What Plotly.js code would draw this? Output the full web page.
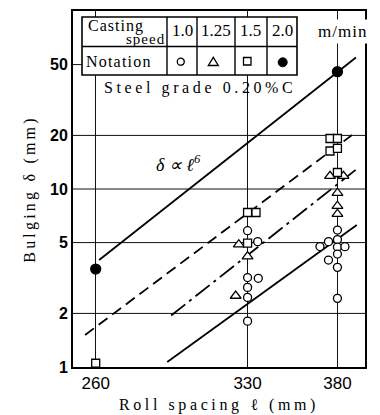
<!DOCTYPE html>
<html><head><meta charset="utf-8">
<script src="https://cdn.plot.ly/plotly-3.0.1.min.js"></script>
<style>html,body{margin:0;padding:0;background:#fff}#chart{width:380px;height:415px}</style>
</head><body><div id="chart"></div>
<script>
// ---------- data ----------
const rollSpacingTicks = [260, 330, 380];
const bulgingTicks = [1, 2, 5, 10, 20, 50];
const bulgingTickLabels = ['1', '2', '5', '10', '20', '50'];
const gridBulging = [2, 5, 10, 20];

const speedLabels = ['1.0', '1.25', '1.5', '2.0'];

// casting speed 1.0 m/min (open circles)
const v10x = [330, 335.3, 330, 335.6, 330, 330, 330,
              380, 374.7, 380, 369.7, 380, 384.5, 374.7, 380, 380, 380];
const v10y = [5.83, 5.06, 3.18, 3.15, 2.80, 2.46, 1.81,
              5.88, 5.06, 5.20, 4.75, 4.72, 4.74, 3.99, 4.31, 3.63, 2.43];
// casting speed 1.25 m/min (open triangles)
const v125x = [325.5, 330, 323.9, 375.6, 383.6, 380, 380, 380];
const v125y = [4.88, 4.18, 2.51, 11.83, 11.83, 9.50, 8.03, 7.24];
// casting speed 1.5 m/min (open squares)
const v15x = [260, 330, 334.4, 330, 375.6, 380, 375.6, 380, 380];
const v15y = [1.05, 7.38, 7.38, 4.97, 19.22, 19.22, 16.35, 16.93, 12.38];
// casting speed 2.0 m/min (filled circles)
const v20x = [260, 380];
const v20y = [3.55, 45.6];

// delta ∝ l^6 guide lines (end points)
const lineTopX = [261.4, 391.2],  lineTopY = [3.99, 54.8];
const lineDashX = [255.7, 388.8], lineDashY = [1.513, 20.1];
const lineDotX = [292.7, 392.5],  lineDotY = [1.947, 13.12];
const lineLowX = [290.9, 391.7],  lineLowY = [1.067, 6.28];

// ---------- layout helpers ----------
const L = 73, R = 365, T = 11, B = 367;
const PX = x => (x - L) / (R - L);
const PY = y => (B - y) / (B - T);
const SERIF = '"Liberation Serif", "Times New Roman", serif';
const SANS = '"Liberation Sans", Arial, sans-serif';

const lineTrace = (x, y, dash) => ({
  x, y, type: 'scatter', mode: 'lines', hoverinfo: 'skip',
  line: {color: '#000', width: 1.8, dash}
});
const markTrace = (x, y, symbol, size, fill) => ({
  x, y, type: 'scatter', mode: 'markers', hoverinfo: 'skip', cliponaxis: false,
  marker: {symbol, size, color: fill, line: {color: '#000', width: 1.3}}
});

const data = [
  lineTrace(lineTopX, lineTopY, 'solid'),
  lineTrace(lineDashX, lineDashY, '11px,6px'),
  lineTrace(lineDotX, lineDotY, '18px,5px,3px,5px'),
  lineTrace(lineLowX, lineLowY, 'solid'),
  markTrace(v10x, v10y, 'circle', 8, '#fff'),
  markTrace(v125x, v125y, 'triangle-up', 9.5, '#fff'),
  markTrace(v15x, v15y, 'square', 8, '#fff'),
  markTrace(v20x, v20y, 'circle', 10, '#000')
];

const shapes = [];
gridBulging.forEach(v => shapes.push({type: 'line', xref: 'paper', yref: 'y', x0: 0, x1: 1, y0: v, y1: v,
  line: {color: '#111', width: 1}, layer: 'below'}));
shapes.push({type: 'line', xref: 'paper', yref: 'y', x0: 0, x1: PX(120), y0: 50, y1: 50,
  line: {color: '#111', width: 1}, layer: 'below'});
// table
const tL = 82, tR = 297, tT = 17, tM = 46.5, tB = 75;
shapes.push({type: 'rect', xref: 'paper', yref: 'paper', x0: PX(tL), x1: PX(tR), y0: PY(tB), y1: PY(tT),
  fillcolor: '#fff', line: {color: '#000', width: 1.6}, layer: 'above'});
shapes.push({type: 'line', xref: 'paper', yref: 'paper', x0: PX(tL), x1: PX(tR), y0: PY(tM), y1: PY(tM),
  line: {color: '#000', width: 1.4}, layer: 'above'});
[167, 197, 235, 267].forEach(x => shapes.push({type: 'line', xref: 'paper', yref: 'paper',
  x0: PX(x), x1: PX(x), y0: PY(tT), y1: PY(tB), line: {color: '#000', width: 1.4}, layer: 'above'}));
// notation symbols
shapes.push({type: 'circle', xref: 'paper', yref: 'paper', x0: PX(177.3), x1: PX(184.3), y0: PY(65.2), y1: PY(58.2),
  line: {color: '#000', width: 1.3}, fillcolor: '#fff', layer: 'above'});
shapes.push({type: 'path', xref: 'paper', yref: 'paper', layer: 'above',
  path: `M ${PX(208.3)},${PY(65.5)} L ${PX(218.3)},${PY(65.5)} L ${PX(213.3)},${PY(57.3)} Z`,
  line: {color: '#000', width: 1.3}, fillcolor: '#fff'});
shapes.push({type: 'rect', xref: 'paper', yref: 'paper', x0: PX(243.5), x1: PX(251), y0: PY(65), y1: PY(57.5),
  line: {color: '#000', width: 1.3}, fillcolor: '#fff', layer: 'above'});
shapes.push({type: 'circle', xref: 'paper', yref: 'paper', x0: PX(278.2), x1: PX(287.2), y0: PY(66.8), y1: PY(57.8),
  line: {color: '#000', width: 1}, fillcolor: '#000', layer: 'above'});

const ann = (text, x, y, size, extra) => Object.assign({
  text, xref: 'paper', yref: 'paper', x: PX(x), y: PY(y), xanchor: 'center', yanchor: 'middle',
  showarrow: false, font: {family: SERIF, size, color: '#000'}
}, extra || {});
const sp = (t, ls) => `<span style="letter-spacing:${ls}px">${t}</span>`;

const speedX = [182.5, 215.8, 250.8, 282.5];
const annotations = [
  ann(sp('Casting', 1), 116, 26.5, 16),
  ann(sp('speed', 1), 145, 38.5, 15),
  ann(sp('Notation', 1.2), 119, 61.5, 16),
  ...speedLabels.map((s, i) => ann(s, speedX[i], 30.5, 17)),
  ann(sp('m/min', 1), 342.5, 31.5, 17, {bgcolor: '#fff', borderpad: 2}),
  ann(sp('Steel grade 0.20%C', 3.6), 199.5, 88, 16),
  ann('δ ∝ ℓ<sup>6</sup>', 178, 163, 18, {font: {family: SERIF, size: 18, color: '#000', style: 'italic'}})
];

const layout = {
  width: 380, height: 415,
  margin: {l: L, r: 380 - R, t: T, b: 415 - B, pad: 0},
  paper_bgcolor: '#fff', plot_bgcolor: '#fff',
  showlegend: false,
  xaxis: {
    type: 'log', range: [Math.log10(250.9), Math.log10(396.8)],
    tickmode: 'array', tickvals: rollSpacingTicks, ticktext: rollSpacingTicks.map(String),
    showgrid: true, gridcolor: '#111', gridwidth: 1,
    showline: true, linecolor: '#000', linewidth: 2, mirror: true,
    ticks: '', zeroline: false, automargin: false, fixedrange: true,
    tickfont: {family: SANS, size: 17, color: '#000'},
    title: {text: sp('Roll spacing ℓ (mm)', 3.6), font: {family: SERIF, size: 16, color: '#000'}, standoff: 6}
  },
  yaxis: {
    type: 'log', range: [0, 2],
    tickmode: 'array', tickvals: bulgingTicks, ticktext: bulgingTickLabels,
    showgrid: false,
    showline: true, linecolor: '#000', linewidth: 2, mirror: true,
    ticks: '', zeroline: false, automargin: false, fixedrange: true,
    tickfont: {family: SANS, size: 16, color: '#000', weight: 'bold'},
    title: {text: sp('Bulging δ (mm)', 3.2), font: {family: SERIF, size: 16, color: '#000'}, standoff: 10}
  },
  shapes, annotations
};

Plotly.newPlot('chart', data, layout, {staticPlot: true, displayModeBar: false});
</script>
</body></html>
